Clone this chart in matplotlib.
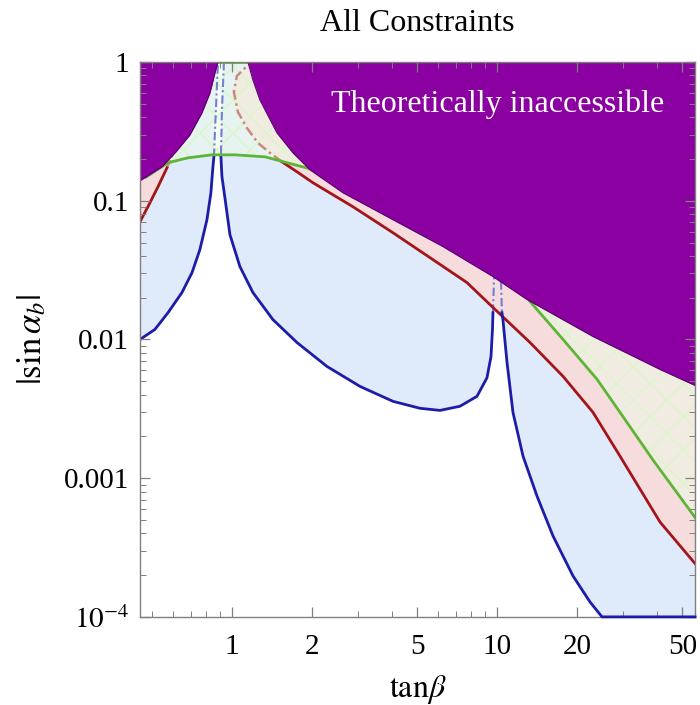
import numpy as np
import matplotlib
matplotlib.use('Agg')
import matplotlib.pyplot as plt
from matplotlib.ticker import FixedLocator, NullFormatter

plt.rcParams['font.family'] = ['Liberation Serif', 'DejaVu Serif']
plt.rcParams['mathtext.fontset'] = 'stix'
plt.rcParams['hatch.linewidth'] = 0.9

# --- data (tan beta, |sin alpha_b|) ---
# blue constraint
blue_left_x = [0.450, 0.512, 0.574, 0.648, 0.707, 0.757, 0.805, 0.833, 0.848, 0.855]
blue_left_y = [0.0100, 0.0118, 0.0156, 0.0218, 0.0303, 0.0444, 0.0730, 0.114, 0.176, 0.207]
blue_left_dash_x = [0.855, 0.870, 0.886]
blue_left_dash_y = [0.207, 0.452, 1.0]
blue_mid_dash_x = [0.933, 0.917, 0.909]
blue_mid_dash_y = [1.0, 0.452, 0.207]
blue_mid_x = [0.909, 0.917, 0.941, 0.983, 1.072, 1.200, 1.428, 1.759, 2.283, 3.041, 4.051,
              5.122, 6.095, 7.251, 8.405, 9.168, 9.494, 9.616, 9.658]
blue_mid_y = [0.207, 0.149, 0.105, 0.0569, 0.0335, 0.0218, 0.0139, 0.00951, 0.00639,
              0.00459, 0.00358, 0.00319, 0.00308, 0.00330, 0.00389, 0.00530, 0.00754,
              0.0118, 0.0156]
blue_spike_dash_x = [9.658, 9.743, 9.829]
blue_spike_dash_y = [0.0156, 0.0270, 0.0346]
blue_right_dash_x = [10.26, 10.35, 10.44]
blue_right_dash_y = [0.0346, 0.0270, 0.0156]
blue_right_x = [10.44, 10.53, 10.91, 11.49, 12.54, 14.16, 16.27, 19.36, 22.44, 24.90, 55.9]
blue_right_y = [0.0156, 0.0139, 0.00683, 0.00298, 0.00144, 0.000742, 0.000383, 0.000197,
                0.000128, 0.0001, 0.0001]

# red constraint
red_left_x = [0.45, 0.482, 0.526, 0.569]
red_left_y = [0.0706, 0.0905, 0.126, 0.173]
red_left_dash_x = [0.569, 0.594, 0.615]
red_left_dash_y = [0.173, 0.207, 0.233]
red_dash_x = [1.544, 1.391, 1.254, 1.139, 1.053, 1.017, 1.044, 1.139]
red_dash_y = [0.191, 0.2215, 0.261, 0.335, 0.437, 0.608, 0.793, 0.936]
red_right_x = [1.544, 1.759, 2.022, 2.862, 4.051, 5.734, 7.704, 9.658, 13.32, 17.75,
               23.03, 29.12, 41.21, 56.85]
red_right_y = [0.191, 0.1617, 0.1348, 0.0905, 0.0588, 0.0376, 0.0257, 0.0170, 0.00951,
               0.00542, 0.00298, 0.00144, 0.000483, 0.000233]

# green constraint
green_arc_x = [0.4735, 0.5735, 0.6823, 0.8405, 1.026, 1.332, 1.518, 1.729, 1.969]
green_arc_y = [0.148, 0.1877, 0.2039, 0.2143, 0.2143, 0.2073, 0.194, 0.1815, 0.170]
green_right_x = [13.32, 17.75, 23.85, 29.12, 38.80, 56.85]
green_right_y = [0.0188, 0.0100, 0.00516, 0.00298, 0.00135, 0.000498]
green_top_x = [0.886, 1.149]
green_top_y = [1.0, 1.0]

# theoretically inaccessible region (lower edge)
purple_left_x = [0.4496, 0.5442, 0.6149, 0.6944, 0.7705, 0.826, 0.8627, 0.8855]
purple_left_y = [0.1393, 0.1757, 0.2252, 0.2985, 0.4296, 0.598, 0.834, 1.0]
purple_right_x = [1.149, 1.200, 1.275, 1.479, 1.699, 1.969, 2.624, 4.051, 6.256, 9.658,
                  12.98, 23.03, 41.21, 56.85]
purple_right_y = [1.0, 0.742, 0.533, 0.3084, 0.2215, 0.1671, 0.1142, 0.0730, 0.0467,
                  0.0284, 0.0194, 0.0105, 0.00608, 0.00459]

x_ticks = [1, 2, 5, 10, 20, 50]
y_ticks = [1e-4, 1e-3, 1e-2, 1e-1, 1]
y_labels = [r'$10^{-4}$', '0.001', '0.01', '0.1', '1']

c_purple = '#8b00a0'
c_blue = '#1c1ca8'
c_blue_fill = '#dfeafb'
c_red = '#a3151a'
c_pink = '#f6dcdc'
c_green = '#5cb535'
c_green_fill = '#eefce8'
dashdot = (0, (4, 1.5, 1, 1.5))

fig = plt.figure(figsize=(7.0, 7.05), dpi=100)
ax = fig.add_axes([0.2, 0.125, 0.793, 0.787])
ax.set_xscale('log')
ax.set_yscale('log')

# blue excluded region
bx = (blue_left_x + blue_left_dash_x + blue_mid_dash_x + blue_mid_x + blue_spike_dash_x
      + blue_right_dash_x + blue_right_x + [blue_right_x[-1], blue_left_x[0]])
by = (blue_left_y + blue_left_dash_y + blue_mid_dash_y + blue_mid_y + blue_spike_dash_y
      + blue_right_dash_y + blue_right_y + [1.0, 1.0])
ax.fill(bx, by, color=c_blue_fill, lw=0, zorder=1)

# red excluded region
ax.fill_between(red_left_x + red_left_dash_x, red_left_y + red_left_dash_y, 1,
                color=c_pink, lw=0, zorder=1.1)
px = red_dash_x[::-1] + red_right_x + [red_right_x[-1], red_dash_x[-1]]
py = red_dash_y[::-1] + red_right_y + [1.0, 1.0]
ax.fill(px, py, color=c_pink, lw=0, zorder=1.1)

# green excluded region
for gx, gy in [(green_arc_x, green_arc_y), (green_right_x, green_right_y)]:
    ax.fill_between(gx, gy, 1, color=c_green_fill, alpha=0.5, lw=0, zorder=1.2)
    ax.fill_between(gx, gy, 1, facecolor='none', edgecolor='#d9f6c6', hatch='x',
                    lw=0, zorder=1.25)

# curves
ax.plot(blue_left_x, blue_left_y, color=c_blue, lw=2, zorder=1.5)
ax.plot(blue_mid_x, blue_mid_y, color=c_blue, lw=2, zorder=1.5)
ax.plot(blue_right_x, blue_right_y, color=c_blue, lw=2, zorder=2.7, clip_on=False)
for dx, dy in [(blue_left_dash_x, blue_left_dash_y), (blue_mid_dash_x, blue_mid_dash_y),
               (blue_spike_dash_x, blue_spike_dash_y), (blue_right_dash_x, blue_right_dash_y)]:
    ax.plot(dx, dy, color='#6f7fd6', lw=1.5, ls=dashdot, zorder=1.4)

ax.plot(red_left_x, red_left_y, color=c_red, lw=2, zorder=1.5)
ax.plot(red_right_x, red_right_y, color=c_red, lw=2, zorder=1.5)
ax.plot(red_left_dash_x, red_left_dash_y, color='#c98a7c', lw=1.5, ls=dashdot, zorder=1.4)
ax.plot(red_dash_x, red_dash_y, color='#c98a7c', lw=1.8, ls=dashdot, zorder=1.4)

ax.plot(green_arc_x, green_arc_y, color=c_green, lw=2, zorder=1.6)
ax.plot(green_right_x, green_right_y, color=c_green, lw=2, zorder=1.6)
ax.plot(green_top_x, green_top_y, color=c_green, lw=2, zorder=1.6)

# theoretically inaccessible
ax.fill_between(purple_left_x, purple_left_y, 1, color=c_purple, lw=0, zorder=2)
ax.fill_between(purple_right_x, purple_right_y, 1, color=c_purple, lw=0, zorder=2)
ax.plot(purple_left_x, purple_left_y, color='#5c0070', lw=0.8, zorder=2.1)
ax.plot(purple_right_x, purple_right_y, color='#5c0070', lw=0.8, zorder=2.1)

ax.text(0.645, 0.924, 'Theoretically inaccessible', transform=ax.transAxes,
        color='white', fontsize=23, ha='center', va='center', zorder=3)

ax.set_xlim(0.45, 55.9)
ax.set_ylim(1e-4, 1)

ax.xaxis.set_major_locator(FixedLocator(x_ticks))
ax.set_xticklabels([str(t) for t in x_ticks])
minor_x = [0.5, 0.6, 0.7, 0.8, 0.9, 3, 4, 6, 7, 8, 9, 30, 40]
ax.xaxis.set_minor_locator(FixedLocator(minor_x))
ax.xaxis.set_minor_formatter(NullFormatter())
ax.yaxis.set_major_locator(FixedLocator(y_ticks))
ax.set_yticklabels(y_labels)
minor_y = [m * 10.0 ** e for e in range(-4, 0) for m in range(2, 10)]
ax.yaxis.set_minor_locator(FixedLocator(minor_y))
ax.yaxis.set_minor_formatter(NullFormatter())

ax.set_axisbelow(False)
ax.tick_params(which='both', direction='in', top=True, right=True, color='#808080',
               labelsize=21)
ax.tick_params(axis='y', pad=8)
ax.tick_params(axis='x', pad=12)
ax.tick_params(which='major', length=7, width=0.9)
ax.tick_params(which='minor', length=4, width=0.7)
for s in ax.spines.values():
    s.set_color('#808080')
    s.set_linewidth(1.0)
    s.set_zorder(2.6)

ax.set_xlabel(r'$\mathrm{tan}\beta$', fontsize=23, labelpad=10)
ax.set_ylabel(r'$|\mathrm{sin}\,\alpha_b|$', fontsize=25, labelpad=10)
ax.set_title('All Constraints', fontsize=23, pad=22)

fig.savefig('out.png', dpi=100)
